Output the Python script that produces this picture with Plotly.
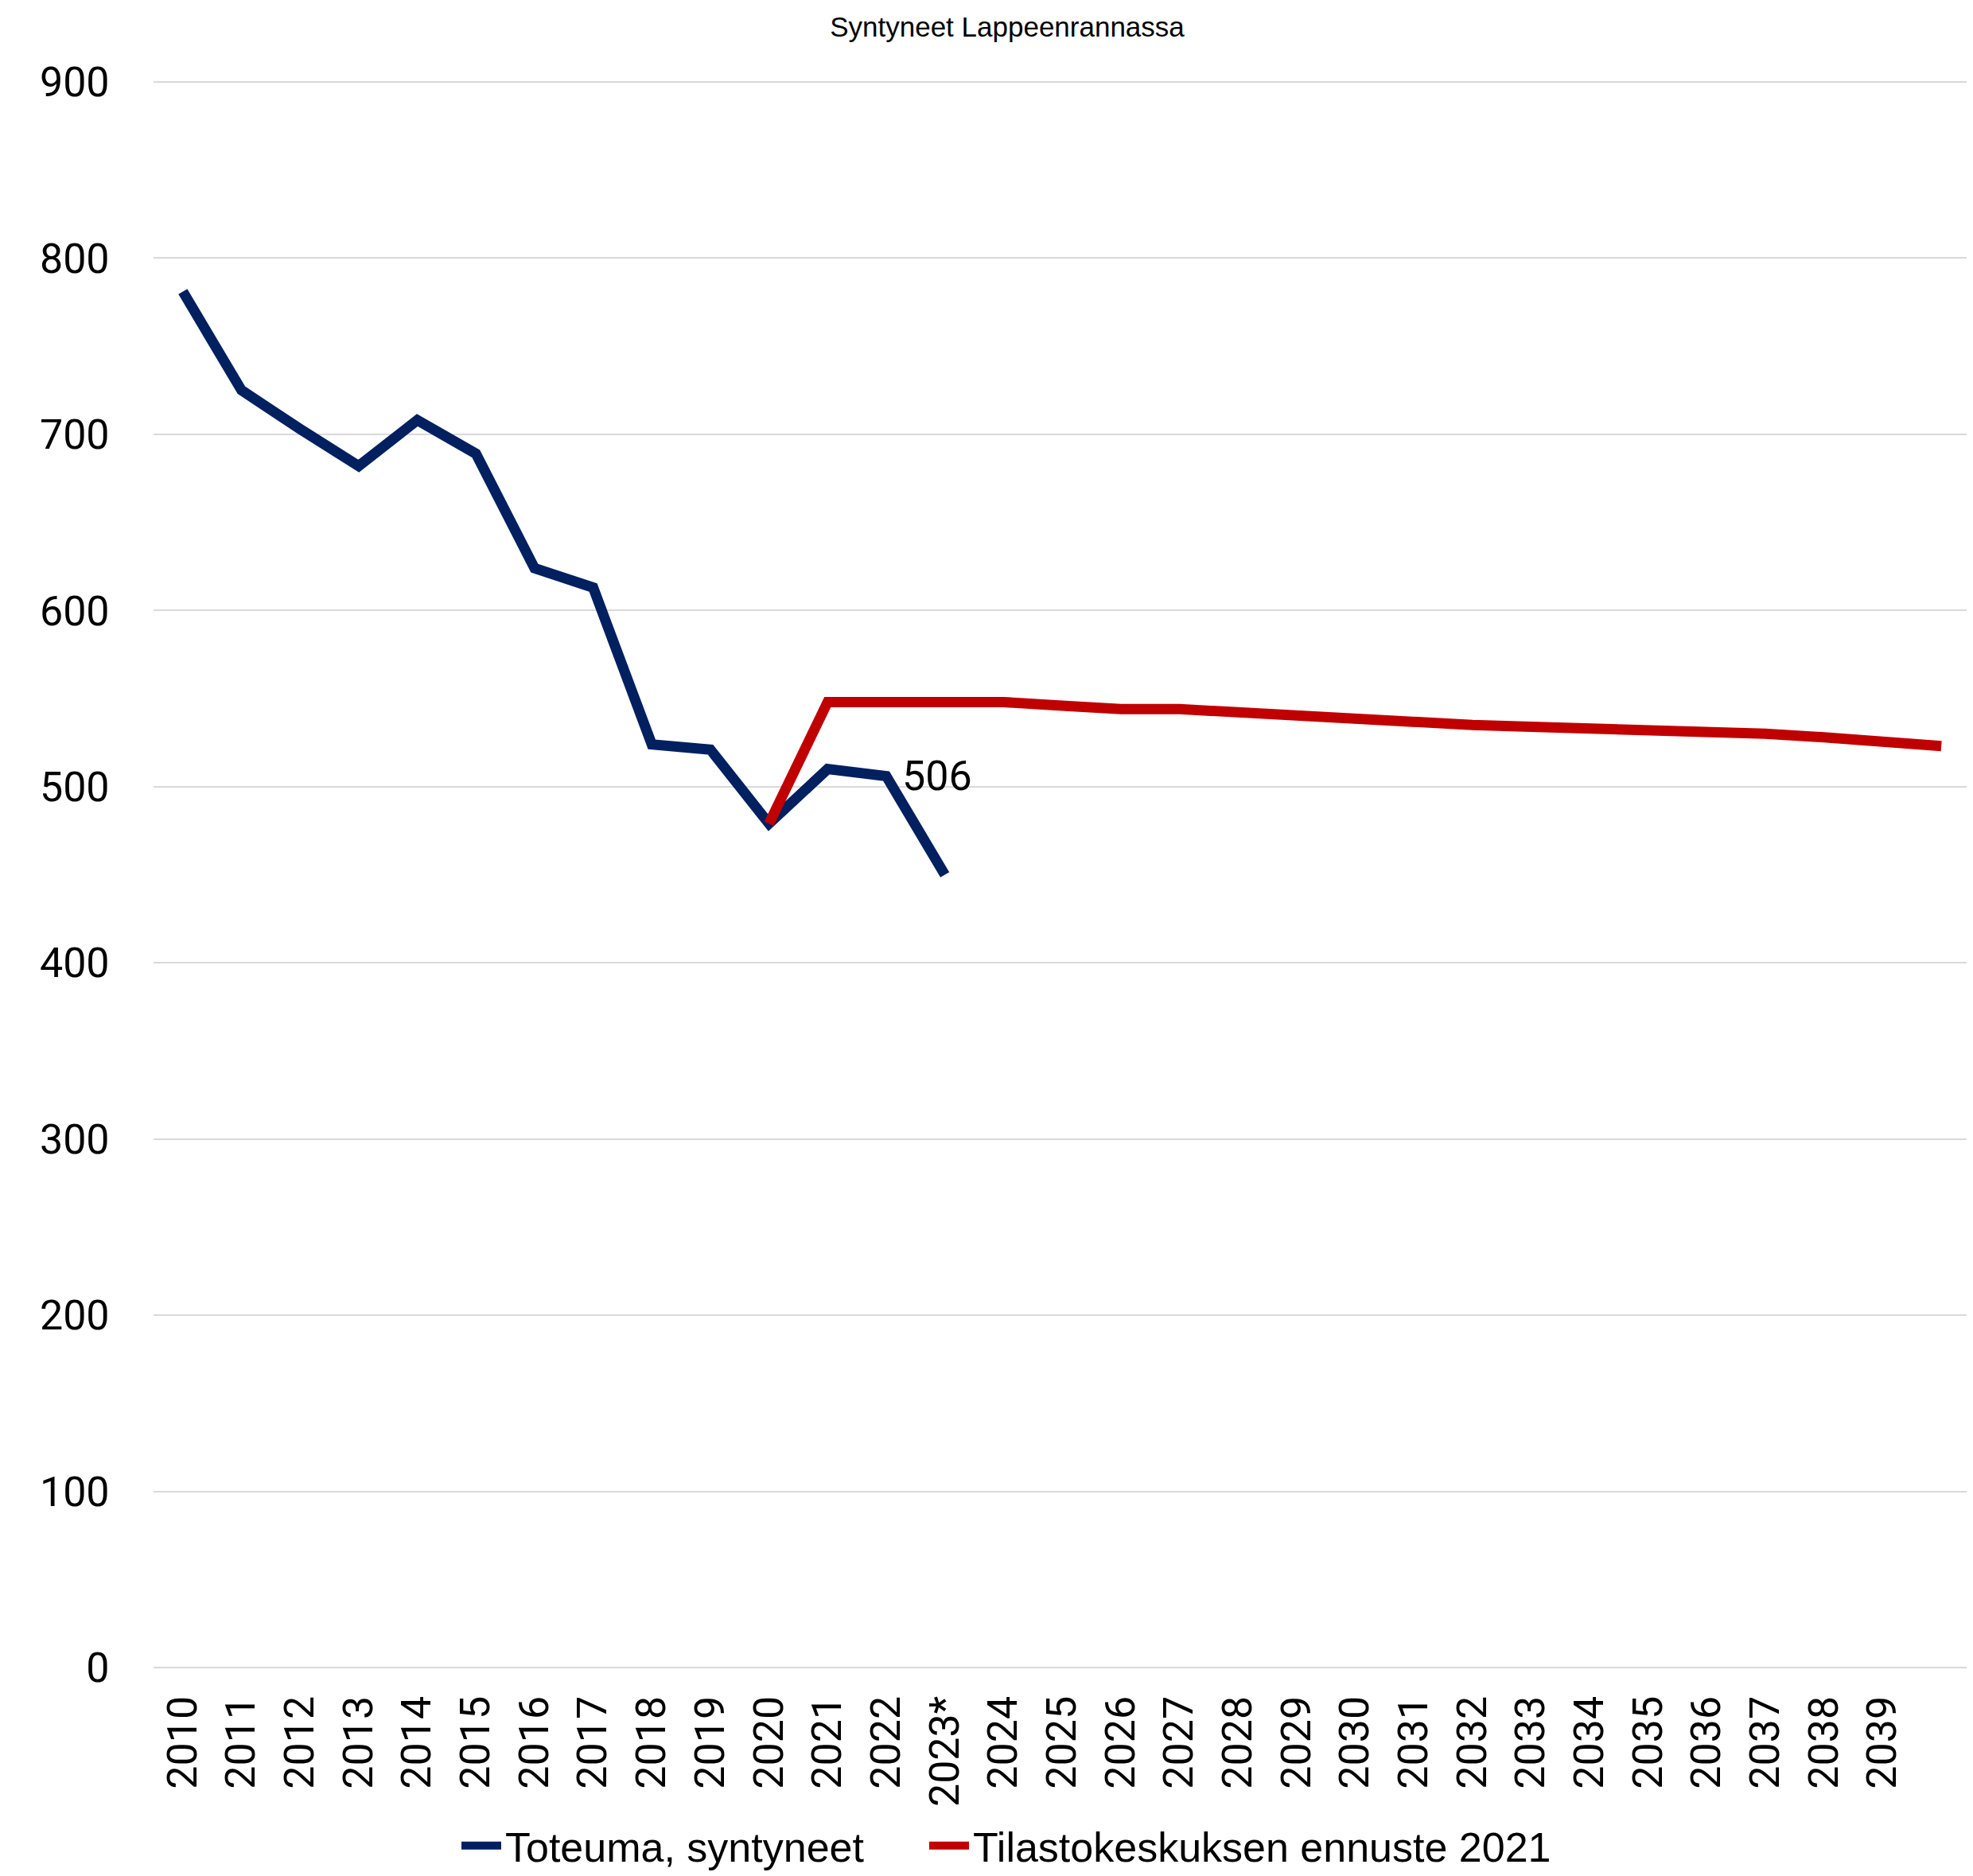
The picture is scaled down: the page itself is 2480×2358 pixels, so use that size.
import plotly.graph_objects as go

categories = ["2010", "2011", "2012", "2013", "2014", "2015", "2016", "2017", "2018", "2019",
              "2020", "2021", "2022", "2023*", "2024", "2025", "2026", "2027", "2028", "2029",
              "2030", "2031", "2032", "2033", "2034", "2035", "2036", "2037", "2038", "2039", "2040"]
tick_labels = categories[:-1]

actual_x = ["2010", "2011", "2012", "2013", "2014", "2015", "2016", "2017", "2018", "2019",
            "2020", "2021", "2022", "2023*"]
actual_y = [781, 725, 703, 682, 708, 689, 624, 613, 524, 521, 479, 510, 506, 450]

forecast_x = ["2020", "2021", "2022", "2023*", "2024", "2025", "2026", "2027", "2028", "2029",
              "2030", "2031", "2032", "2033", "2034", "2035", "2036", "2037", "2038", "2039", "2040"]
forecast_y = [479, 548, 548, 548, 548, 546, 544, 544, 542, 540,
              538, 536, 535, 534, 533, 532, 532, 530, 528, 526, 523]

y_ticks = [0, 100, 200, 300, 400, 500, 600, 700, 800, 900]

label_x = "2022"
label_value = 506

NAVY = "#002060"
RED = "#C00000"
TICK_FONT = "Roboto, Lato, sans-serif"
NARROW = "Liberation Sans Narrow, Arial Narrow, Liberation Sans, sans-serif"

fig = go.Figure()
fig.add_trace(go.Scatter(x=actual_x, y=actual_y, mode="lines", name="Toteuma, syntyneet",
                         line=dict(color=NAVY, width=13), legend="legend"))
fig.add_trace(go.Scatter(x=forecast_x, y=forecast_y, mode="lines", name="Tilastokeskuksen ennuste 2021",
                         line=dict(color=RED, width=13), legend="legend2"))

fig.add_annotation(x=categories.index(label_x), y=label_value, text=str(label_value), showarrow=False,
                   xref="x", yref="y",
                   xanchor="left", yanchor="middle", xshift=18,
                   font=dict(family=TICK_FONT, size=52, color="#000000"))

legend_common = dict(orientation="h", xref="container", yref="container",
                     xanchor="left", y=46 / 2358, yanchor="middle",
                     bgcolor="rgba(0,0,0,0)", itemwidth=50,
                     font=dict(family=NARROW, size=52, color="#000000"))

fig.update_layout(
    width=2480, height=2358,
    paper_bgcolor="white", plot_bgcolor="white",
    margin=dict(l=185, r=11, t=91, b=270, autoexpand=False),
    title=dict(text="Syntyneet Lappeenrannassa", x=1258 / 2480, xanchor="center",
               y=1 - 26 / 2358, yanchor="middle",
               font=dict(family=NARROW, size=35, color="#000000")),
    showlegend=True,
    legend=dict(x=567 / 2480, **legend_common),
    legend2=dict(x=1155 / 2480, **legend_common),
    xaxis=dict(type="category", categoryorder="array", categoryarray=categories,
               range=[-0.5, len(categories) - 0.5],
               tickvals=tick_labels, ticktext=tick_labels, tickangle=-90,
               tickfont=dict(family=TICK_FONT, size=52, color="#000000"),
               showgrid=False, showline=False, zeroline=False,
               ticks="outside", ticklen=14, tickcolor="rgba(0,0,0,0)"),
    yaxis=dict(range=[0, 901.8], tickvals=y_ticks,
               tickfont=dict(family=TICK_FONT, size=52, color="#000000"),
               showgrid=True, gridcolor="#D9D9D9", gridwidth=2,
               zeroline=True, zerolinecolor="#D9D9D9", zerolinewidth=2,
               showline=False, ticks="outside", ticklen=44, tickcolor="rgba(0,0,0,0)"),
)

fig.write_html("out.html")
